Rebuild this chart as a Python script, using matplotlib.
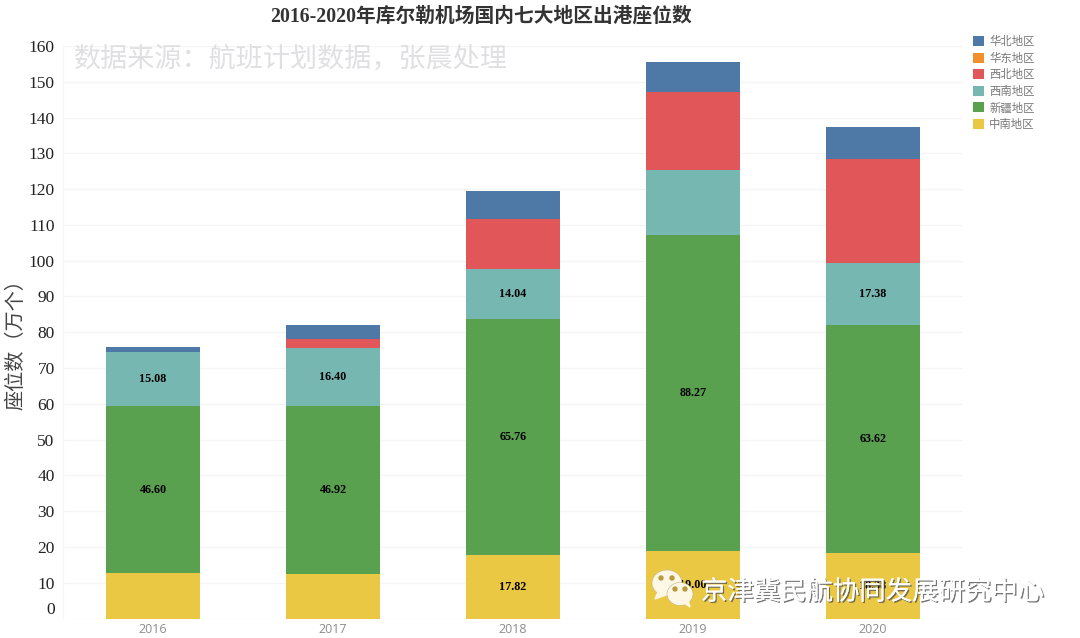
import matplotlib
matplotlib.use("Agg")
import matplotlib.pyplot as plt
import matplotlib.patheffects as pe
from matplotlib.patches import Ellipse, Polygon
from matplotlib.transforms import ScaledTranslation

years = ["2016", "2017", "2018", "2019", "2020"]
central_south = [12.7, 12.4, 17.82, 19.00, 18.38]
xinjiang = [46.60, 46.92, 65.76, 88.27, 63.62]
southwest = [15.08, 16.40, 14.04, 18.10, 17.38]
northwest = [0.0, 2.30, 13.90, 21.80, 29.00]
east_china = [0.0, 0.0, 0.0, 0.0, 0.15]
north_china = [1.40, 4.00, 8.00, 8.40, 8.85]

series_names = ["中南地区", "新疆地区", "西南地区", "西北地区", "华东地区", "华北地区"]
series_values = [central_south, xinjiang, southwest, northwest, east_china, north_china]
series_colors = ["#EBC844", "#59A14F", "#76B7B2", "#E15759", "#F28E2B", "#4E79A7"]
labelled = {
    "中南地区": [2, 3, 4],
    "新疆地区": [0, 1, 2, 3, 4],
    "西南地区": [0, 1, 2, 4],
}
yticks = list(range(0, 170, 10))

SERIF = ["Liberation Serif", "Noto Sans CJK SC"]
W, H = 1080, 638
fig = plt.figure(figsize=(W / 100, H / 100), dpi=100, facecolor="white")
ax = fig.add_axes([63 / W, 1 - 618.5 / H, 900 / W, (618.5 - 46) / H])
ax.set_xlim(-0.5, 4.5)
ax.set_ylim(0, 160)
ax.set_axisbelow(True)
ax.grid(axis="y", color="#f4f4f4", linewidth=0.9)
for s in ["top", "right", "bottom"]:
    ax.spines[s].set_visible(False)
ax.spines["left"].set_color("#f7f7f7")

x = list(range(len(years)))
bottom = [0.0] * len(years)
handles = {}
for name, vals, col in zip(series_names, series_values, series_colors):
    bars = ax.bar(x, vals, width=94 / 180, bottom=bottom, color=col, label=name, linewidth=0)
    handles[name] = bars
    for i in labelled.get(name, []):
        ax.text(i, bottom[i] + vals[i] / 2, f"{vals[i]:.2f}", ha="center", va="center",
                fontsize=8.7, fontweight="bold", family=SERIF, color="black")
    bottom = [b + v for b, v in zip(bottom, vals)]

ax.set_xticks(x, years, fontsize=9, family="Open Sans", color="#8c8c8c")
ax.set_yticks(yticks, [str(t) for t in yticks], fontsize=12.5, family=SERIF, color="#222222")
ax.tick_params(axis="both", length=0)
ax.tick_params(axis="x", pad=3.5)
ax.tick_params(axis="y", pad=6)
lab0 = ax.get_yticklabels()[0]
lab0.set_transform(lab0.get_transform() + ScaledTranslation(0, 10 / 100, fig.dpi_scale_trans))

fig.text(481 / W, 1 - 17 / H, "2016-2020年库尔勒机场国内七大地区出港座位数", ha="center", va="center",
         fontsize=14.2, fontweight="bold", family=SERIF, color="#333333")
fig.text(16 / W, 1 - 340 / H, "座位数（万个）", rotation=90, ha="center", va="center",
         fontsize=14.5, family=["Noto Sans CJK SC"], color="#444444")
fig.text(74 / W, 1 - 59 / H, "数据来源：航班计划数据，张晨处理", ha="left", va="center",
         fontsize=19.5, family=["Noto Sans CJK SC"], color="#e0e0e3")

names_rev = series_names[::-1]
fig.legend([handles[n] for n in names_rev], names_rev, loc="upper left",
           bbox_to_anchor=(973 / W, 1 - 36 / H), frameon=False, ncol=1,
           prop={"family": ["Noto Sans CJK SC"], "size": 8.2},
           labelcolor="#777777", handlelength=0.97, handleheight=0.97,
           handletextpad=0.45, labelspacing=0.48, borderpad=0, borderaxespad=0)

# WeChat-style footer mark and account name
ov = fig.add_axes([0, 0, 1, 1], facecolor="none")
ov.set_xlim(0, W)
ov.set_ylim(H, 0)
ov.axis("off")
cream = "#FDF7E6"
ov.add_patch(Ellipse((667, 583), 30, 26, color=cream, ec="#c8b27a", lw=0.4))
ov.add_patch(Polygon([[658, 592], [655, 599], [666, 595]], color=cream))
ov.add_patch(Ellipse((680, 594), 26, 23, color=cream, ec="#c8b27a", lw=0.4))
ov.add_patch(Polygon([[684, 603], [690, 607], [688, 600]], color=cream))
for ex, ey in [(661, 578), (672, 578), (675, 589), (685, 589)]:
    ov.add_patch(Ellipse((ex, ey), 4, 4, color="#B99A3E"))
ov.text(701, 592, "京津冀民航协同发展研究中心", ha="left", va="center",
        fontsize=19, family=["Noto Sans CJK SC"], color="white",
        path_effects=[pe.withSimplePatchShadow(offset=(1, -1), shadow_rgbFace="#555555", alpha=0.8), pe.Normal()])

fig.savefig("out.png", dpi=100)
